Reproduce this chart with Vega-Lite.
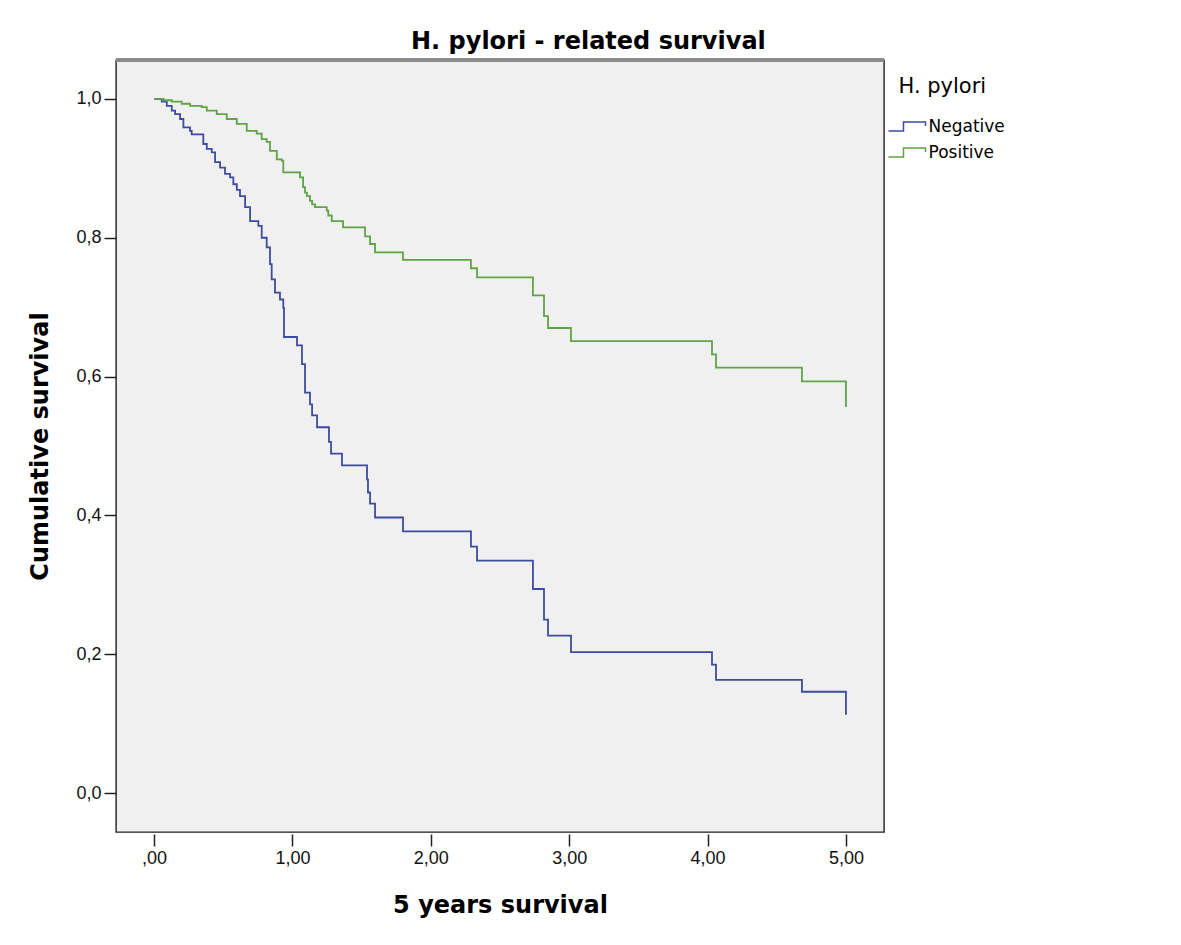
{
  "$schema": "https://vega.github.io/schema/vega-lite/v6.json",
  "width": 768,
  "height": 772,
  "autosize": "none",
  "padding": {"left": 116, "top": 60, "right": 297, "bottom": 113},
  "background": "white",
  "title": {
    "text": "H. pylori - related survival",
    "font": "DejaVu Sans",
    "fontSize": 24,
    "fontWeight": "bold",
    "color": "black",
    "anchor": "start",
    "frame": "group",
    "dx": 295,
    "baseline": "alphabetic",
    "offset": -14
  },
  "config": {
    "view": {"fill": "#f0f0f0", "stroke": "#1e1e1e", "strokeWidth": 1.4}
  },
  "data": {
    "values": [
      {"group": "Negative", "time": 0, "surv": 1.0},
      {"group": "Negative", "time": 0.056, "surv": 0.996},
      {"group": "Negative", "time": 0.092, "surv": 0.99},
      {"group": "Negative", "time": 0.128, "surv": 0.983},
      {"group": "Negative", "time": 0.152, "surv": 0.978},
      {"group": "Negative", "time": 0.188, "surv": 0.971},
      {"group": "Negative", "time": 0.212, "surv": 0.959},
      {"group": "Negative", "time": 0.26, "surv": 0.954},
      {"group": "Negative", "time": 0.272, "surv": 0.949},
      {"group": "Negative", "time": 0.356, "surv": 0.935},
      {"group": "Negative", "time": 0.381, "surv": 0.928},
      {"group": "Negative", "time": 0.417, "surv": 0.923},
      {"group": "Negative", "time": 0.441, "surv": 0.909},
      {"group": "Negative", "time": 0.477, "surv": 0.901},
      {"group": "Negative", "time": 0.513, "surv": 0.892},
      {"group": "Negative", "time": 0.549, "surv": 0.887},
      {"group": "Negative", "time": 0.573, "surv": 0.877},
      {"group": "Negative", "time": 0.598, "surv": 0.869},
      {"group": "Negative", "time": 0.621, "surv": 0.86},
      {"group": "Negative", "time": 0.658, "surv": 0.844},
      {"group": "Negative", "time": 0.694, "surv": 0.824},
      {"group": "Negative", "time": 0.754, "surv": 0.817},
      {"group": "Negative", "time": 0.778, "surv": 0.8},
      {"group": "Negative", "time": 0.814, "surv": 0.786},
      {"group": "Negative", "time": 0.838, "surv": 0.762},
      {"group": "Negative", "time": 0.85, "surv": 0.74},
      {"group": "Negative", "time": 0.874, "surv": 0.721},
      {"group": "Negative", "time": 0.91, "surv": 0.711},
      {"group": "Negative", "time": 0.934, "surv": 0.699},
      {"group": "Negative", "time": 0.939, "surv": 0.657},
      {"group": "Negative", "time": 1.033, "surv": 0.645},
      {"group": "Negative", "time": 1.069, "surv": 0.618},
      {"group": "Negative", "time": 1.091, "surv": 0.577},
      {"group": "Negative", "time": 1.127, "surv": 0.56},
      {"group": "Negative", "time": 1.142, "surv": 0.544},
      {"group": "Negative", "time": 1.178, "surv": 0.527},
      {"group": "Negative", "time": 1.264, "surv": 0.506},
      {"group": "Negative", "time": 1.279, "surv": 0.489},
      {"group": "Negative", "time": 1.358, "surv": 0.472},
      {"group": "Negative", "time": 1.539, "surv": 0.452},
      {"group": "Negative", "time": 1.546, "surv": 0.433},
      {"group": "Negative", "time": 1.561, "surv": 0.417},
      {"group": "Negative", "time": 1.597, "surv": 0.397},
      {"group": "Negative", "time": 1.799, "surv": 0.377},
      {"group": "Negative", "time": 2.29, "surv": 0.355},
      {"group": "Negative", "time": 2.334, "surv": 0.335},
      {"group": "Negative", "time": 2.738, "surv": 0.294},
      {"group": "Negative", "time": 2.818, "surv": 0.25},
      {"group": "Negative", "time": 2.847, "surv": 0.227},
      {"group": "Negative", "time": 3.013, "surv": 0.203},
      {"group": "Negative", "time": 4.032, "surv": 0.185},
      {"group": "Negative", "time": 4.061, "surv": 0.163},
      {"group": "Negative", "time": 4.682, "surv": 0.146},
      {"group": "Negative", "time": 5.0, "surv": 0.113},
      {"group": "Positive", "time": 0, "surv": 1.0},
      {"group": "Positive", "time": 0.07, "surv": 0.998},
      {"group": "Positive", "time": 0.128, "surv": 0.996},
      {"group": "Positive", "time": 0.2, "surv": 0.993},
      {"group": "Positive", "time": 0.26, "surv": 0.99},
      {"group": "Positive", "time": 0.345, "surv": 0.988},
      {"group": "Positive", "time": 0.381, "surv": 0.983},
      {"group": "Positive", "time": 0.453, "surv": 0.978},
      {"group": "Positive", "time": 0.525, "surv": 0.971},
      {"group": "Positive", "time": 0.598, "surv": 0.964},
      {"group": "Positive", "time": 0.67, "surv": 0.954},
      {"group": "Positive", "time": 0.742, "surv": 0.95},
      {"group": "Positive", "time": 0.778, "surv": 0.942},
      {"group": "Positive", "time": 0.814, "surv": 0.938},
      {"group": "Positive", "time": 0.838, "surv": 0.925},
      {"group": "Positive", "time": 0.887, "surv": 0.913},
      {"group": "Positive", "time": 0.923, "surv": 0.911},
      {"group": "Positive", "time": 0.934, "surv": 0.894},
      {"group": "Positive", "time": 1.055, "surv": 0.887},
      {"group": "Positive", "time": 1.077, "surv": 0.873},
      {"group": "Positive", "time": 1.091, "surv": 0.865},
      {"group": "Positive", "time": 1.105, "surv": 0.86},
      {"group": "Positive", "time": 1.127, "surv": 0.853},
      {"group": "Positive", "time": 1.142, "surv": 0.848},
      {"group": "Positive", "time": 1.163, "surv": 0.844},
      {"group": "Positive", "time": 1.248, "surv": 0.839},
      {"group": "Positive", "time": 1.259, "surv": 0.832},
      {"group": "Positive", "time": 1.284, "surv": 0.824},
      {"group": "Positive", "time": 1.366, "surv": 0.815},
      {"group": "Positive", "time": 1.525, "surv": 0.802},
      {"group": "Positive", "time": 1.561, "surv": 0.791},
      {"group": "Positive", "time": 1.597, "surv": 0.779},
      {"group": "Positive", "time": 1.799, "surv": 0.768},
      {"group": "Positive", "time": 2.29, "surv": 0.756},
      {"group": "Positive", "time": 2.334, "surv": 0.743},
      {"group": "Positive", "time": 2.738, "surv": 0.717},
      {"group": "Positive", "time": 2.818, "surv": 0.687},
      {"group": "Positive", "time": 2.847, "surv": 0.67},
      {"group": "Positive", "time": 3.013, "surv": 0.651},
      {"group": "Positive", "time": 4.032, "surv": 0.632},
      {"group": "Positive", "time": 4.061, "surv": 0.613},
      {"group": "Positive", "time": 4.682, "surv": 0.593},
      {"group": "Positive", "time": 5.0, "surv": 0.556}
    ]
  },
  "layer": [
    {
      "mark": {"type": "line", "interpolate": "step-after", "strokeWidth": 1.8},
      "encoding": {
        "x": {
          "field": "time",
          "type": "quantitative",
          "scale": {"domain": [-0.275, 5.275], "nice": false, "zero": false},
          "axis": {
            "values": [0, 1, 2, 3, 4, 5],
            "labelExpr": "datum.value == 0 ? ',00' : replace(format(datum.value, '.2f'), '.', ',')",
            "title": "5 years survival",
            "titleFont": "DejaVu Sans",
            "titleFontSize": 24,
            "titleFontWeight": "bold",
            "titleColor": "black",
            "titleBaseline": "alphabetic",
            "titleY": 78,
            "titleX": 384,
            "labelFont": "Liberation Sans",
            "labelFontSize": 18,
            "labelColor": "#111",
            "labelPadding": 3,
            "tickSize": 12,
            "tickColor": "#222",
            "tickWidth": 1.5,
            "offset": 2,
            "domain": false,
            "grid": false
          }
        },
        "y": {
          "field": "surv",
          "type": "quantitative",
          "scale": {"domain": [-0.056, 1.056], "nice": false, "zero": false},
          "axis": {
            "values": [0, 0.2, 0.4, 0.6, 0.8, 1.0],
            "labelExpr": "replace(format(datum.value, '.1f'), '.', ',')",
            "title": "Cumulative survival",
            "titleFont": "DejaVu Sans",
            "titleFontSize": 24,
            "titleFontWeight": "bold",
            "titleColor": "black",
            "titleAngle": -90,
            "titleBaseline": "middle",
            "titleAlign": "center",
            "titleX": -76,
            "titleY": 386,
            "labelFont": "Liberation Sans",
            "labelFontSize": 18,
            "labelColor": "#111",
            "labelPadding": 3,
            "tickSize": 12,
            "tickColor": "#222",
            "tickWidth": 1.5,
            "domain": false,
            "grid": false
          }
        },
        "color": {
          "field": "group",
          "type": "nominal",
          "scale": {"domain": ["Negative", "Positive"], "range": ["#3D4C9E", "#5FA347"]},
          "legend": {
            "title": "H. pylori",
            "orient": "none",
            "legendX": 782.5,
            "legendY": 16,
            "padding": 0,
            "titleFont": "DejaVu Sans",
            "titleFontSize": 21,
            "titleFontWeight": "normal",
            "titleColor": "black",
            "titlePadding": 21,
            "labelFont": "DejaVu Sans",
            "labelFontSize": 17,
            "labelColor": "black",
            "labelOffset": 13,
            "rowPadding": 8,
            "symbolType": "M -3.7 0.9 H -0.7 V -0.9 H 3.7 V -0.1",
            "symbolSize": 100,
            "symbolStrokeWidth": 1.5,
            "symbolFillColor": "transparent"
          }
        }
      }
    },
    {
      "mark": {"type": "rule", "color": "#8c8c8c", "strokeWidth": 3},
      "encoding": {"y": {"datum": 1.056}}
    }
  ]
}
